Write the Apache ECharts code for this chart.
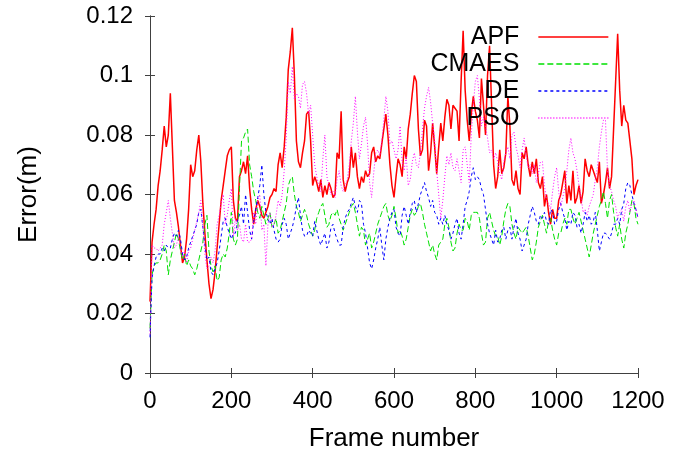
<!DOCTYPE html>
<html><head><meta charset="utf-8">
<script src="https://cdn.jsdelivr.net/npm/echarts@6/dist/echarts.min.js"></script>
<style>html,body{margin:0;padding:0;background:#fff}#c{width:690px;height:457px}</style>
</head><body><div id="c"></div>
<script>
// Frames are sampled every 5 frames (0..1200)
const FRAME_STEP = 5;
const xTicks = [0, 200, 400, 600, 800, 1000, 1200];
const yTicks = [0, 0.02, 0.04, 0.06, 0.08, 0.1, 0.12];
const seriesNames = ['APF', 'CMAES', 'DE', 'PSO'];

const apf = [
0.024,0.044,0.05,0.055,0.063,0.068,0.075,0.083,0.076,0.08,
0.094,0.076,0.058,0.054,0.049,0.043,0.037,0.039,0.045,0.055,
0.07,0.066,0.068,0.075,0.08,0.071,0.057,0.047,0.038,0.03,
0.025,0.028,0.034,0.042,0.05,0.058,0.063,0.068,0.073,0.075,
0.076,0.058,0.052,0.051,0.066,0.068,0.071,0.067,0.073,0.062,
0.055,0.05,0.055,0.058,0.056,0.053,0.052,0.054,0.056,0.059,
0.06,0.062,0.061,0.07,0.074,0.069,0.076,0.086,0.102,0.108,
0.116,0.1,0.078,0.071,0.069,0.074,0.078,0.087,0.088,0.078,
0.063,0.066,0.064,0.061,0.065,0.059,0.063,0.06,0.064,0.062,
0.059,0.06,0.074,0.072,0.088,0.065,0.061,0.064,0.066,0.076,
0.069,0.074,0.066,0.062,0.066,0.064,0.068,0.066,0.067,0.074,
0.076,0.071,0.073,0.072,0.077,0.082,0.087,0.08,0.07,0.063,
0.059,0.066,0.072,0.07,0.066,0.076,0.072,0.082,0.087,0.094,
0.1,0.098,0.082,0.073,0.075,0.085,0.083,0.068,0.074,0.084,
0.076,0.067,0.076,0.084,0.078,0.086,0.092,0.09,0.082,0.09,
0.089,0.088,0.078,0.098,0.115,0.095,0.085,0.078,0.087,0.093,
0.088,0.085,0.079,0.099,0.09,0.08,0.1,0.11,0.09,0.07,
0.062,0.066,0.075,0.067,0.069,0.074,0.093,0.083,0.065,0.063,
0.068,0.062,0.06,0.074,0.072,0.076,0.07,0.066,0.071,0.067,
0.072,0.064,0.062,0.066,0.056,0.06,0.054,0.05,0.055,0.052,
0.052,0.058,0.06,0.064,0.068,0.057,0.063,0.058,0.068,0.057,
0.059,0.063,0.057,0.061,0.072,0.068,0.066,0.07,0.068,0.066,
0.064,0.071,0.057,0.06,0.064,0.069,0.062,0.066,0.082,0.098,
0.114,0.095,0.083,0.09,0.085,0.084,0.078,0.072,0.06,0.063,
0.065];

const cmaes = [
0.015,0.033,0.036,0.037,0.037,0.038,0.04,0.043,0.041,0.033,
0.038,0.041,0.044,0.047,0.045,0.041,0.038,0.04,0.036,0.038,
0.036,0.035,0.033,0.035,0.038,0.041,0.044,0.05,0.053,0.041,
0.036,0.034,0.036,0.031,0.032,0.038,0.04,0.039,0.042,0.047,
0.054,0.045,0.043,0.045,0.062,0.078,0.079,0.081,0.082,0.07,
0.066,0.061,0.058,0.054,0.052,0.056,0.053,0.05,0.052,0.054,
0.049,0.05,0.052,0.047,0.048,0.051,0.054,0.057,0.063,0.065,
0.066,0.06,0.056,0.054,0.051,0.053,0.055,0.053,0.05,0.048,
0.046,0.048,0.052,0.054,0.056,0.057,0.053,0.049,0.05,0.053,
0.054,0.053,0.055,0.052,0.05,0.048,0.05,0.052,0.054,0.056,
0.057,0.054,0.05,0.046,0.049,0.048,0.043,0.045,0.047,0.042,
0.044,0.047,0.05,0.052,0.054,0.056,0.057,0.053,0.051,0.053,
0.056,0.052,0.047,0.048,0.046,0.043,0.045,0.049,0.053,0.055,
0.053,0.054,0.056,0.057,0.054,0.05,0.047,0.044,0.041,0.043,
0.04,0.038,0.043,0.044,0.045,0.05,0.052,0.049,0.044,0.041,
0.042,0.047,0.05,0.048,0.048,0.052,0.051,0.048,0.053,0.054,
0.054,0.054,0.052,0.047,0.043,0.044,0.052,0.054,0.051,0.048,
0.046,0.046,0.043,0.046,0.051,0.055,0.057,0.056,0.05,0.047,
0.045,0.049,0.048,0.047,0.048,0.049,0.046,0.042,0.038,0.04,
0.044,0.049,0.051,0.053,0.05,0.047,0.051,0.052,0.048,0.045,
0.043,0.047,0.047,0.05,0.052,0.05,0.055,0.055,0.052,0.05,
0.052,0.054,0.051,0.048,0.045,0.042,0.039,0.043,0.047,0.05,
0.053,0.056,0.058,0.061,0.057,0.052,0.058,0.06,0.054,0.049,
0.046,0.05,0.045,0.042,0.047,0.05,0.054,0.058,0.057,0.052,
0.05];

const de = [
0.012,0.032,0.036,0.039,0.04,0.04,0.042,0.041,0.043,0.042,
0.042,0.045,0.047,0.046,0.048,0.045,0.04,0.038,0.039,0.042,
0.044,0.046,0.048,0.05,0.054,0.055,0.049,0.043,0.038,0.039,
0.034,0.033,0.035,0.037,0.041,0.046,0.051,0.052,0.049,0.047,
0.045,0.047,0.047,0.051,0.053,0.056,0.05,0.06,0.054,0.048,
0.045,0.051,0.055,0.059,0.063,0.07,0.06,0.054,0.052,0.05,
0.052,0.048,0.045,0.044,0.045,0.05,0.052,0.05,0.045,0.047,
0.049,0.052,0.056,0.059,0.053,0.048,0.046,0.046,0.048,0.047,
0.046,0.051,0.048,0.045,0.043,0.045,0.047,0.042,0.044,0.049,
0.05,0.047,0.045,0.043,0.043,0.049,0.052,0.054,0.055,0.057,
0.059,0.056,0.054,0.058,0.057,0.05,0.047,0.042,0.037,0.035,
0.038,0.042,0.045,0.049,0.043,0.038,0.045,0.049,0.052,0.054,
0.055,0.049,0.047,0.046,0.053,0.056,0.053,0.05,0.054,0.057,
0.058,0.054,0.057,0.06,0.062,0.064,0.061,0.059,0.056,0.058,
0.054,0.053,0.05,0.052,0.05,0.053,0.05,0.048,0.045,0.047,
0.05,0.052,0.047,0.045,0.05,0.056,0.058,0.061,0.066,0.069,
0.065,0.066,0.065,0.062,0.06,0.055,0.05,0.047,0.045,0.043,
0.048,0.044,0.045,0.048,0.049,0.045,0.048,0.049,0.045,0.049,
0.052,0.047,0.045,0.041,0.043,0.045,0.05,0.053,0.056,0.054,
0.051,0.05,0.053,0.052,0.054,0.051,0.05,0.055,0.054,0.05,
0.051,0.055,0.057,0.054,0.052,0.048,0.051,0.05,0.054,0.053,
0.049,0.05,0.047,0.05,0.054,0.051,0.053,0.05,0.051,0.054,
0.048,0.041,0.044,0.047,0.047,0.046,0.045,0.047,0.05,0.05,
0.052,0.05,0.055,0.057,0.062,0.064,0.063,0.06,0.057,0.055,
0.052];

const pso = [
0.013,0.043,0.042,0.042,0.041,0.042,0.043,0.05,0.054,0.058,
0.052,0.047,0.042,0.043,0.046,0.042,0.039,0.041,0.037,0.041,
0.042,0.045,0.048,0.051,0.054,0.058,0.049,0.04,0.035,0.036,
0.039,0.037,0.041,0.05,0.053,0.057,0.06,0.05,0.053,0.058,
0.062,0.046,0.052,0.048,0.05,0.045,0.044,0.05,0.044,0.044,
0.045,0.054,0.05,0.058,0.06,0.048,0.05,0.036,0.05,0.054,
0.049,0.05,0.053,0.058,0.056,0.06,0.068,0.079,0.098,0.094,
0.103,0.092,0.094,0.093,0.089,0.097,0.098,0.094,0.087,0.09,
0.08,0.07,0.066,0.063,0.061,0.072,0.08,0.066,0.063,0.06,
0.061,0.059,0.065,0.068,0.063,0.061,0.063,0.065,0.07,0.078,
0.084,0.093,0.081,0.072,0.077,0.083,0.086,0.077,0.064,0.059,
0.067,0.074,0.075,0.073,0.078,0.085,0.093,0.088,0.077,0.078,
0.075,0.072,0.075,0.083,0.071,0.068,0.073,0.063,0.065,0.071,
0.074,0.07,0.069,0.074,0.082,0.089,0.093,0.096,0.091,0.084,
0.078,0.068,0.06,0.052,0.058,0.066,0.073,0.07,0.074,0.069,
0.068,0.072,0.068,0.064,0.075,0.076,0.07,0.064,0.08,0.09,
0.098,0.1,0.092,0.083,0.086,0.083,0.079,0.074,0.075,0.072,
0.074,0.071,0.067,0.065,0.071,0.074,0.076,0.072,0.08,0.081,
0.076,0.073,0.069,0.075,0.079,0.073,0.069,0.07,0.067,0.07,
0.064,0.067,0.071,0.071,0.063,0.058,0.057,0.055,0.061,0.066,
0.069,0.061,0.056,0.059,0.062,0.068,0.075,0.079,0.074,0.072,
0.068,0.063,0.059,0.054,0.055,0.053,0.056,0.058,0.06,0.065,
0.069,0.076,0.081,0.085,0.085,0.068,0.063,0.061,0.058,0.056,
0.052,0.054,0.055,0.051,0.056,0.058,0.054,0.057,0.058,0.055,
0.052];

const colors = ['#ff0000', '#00e000', '#0000ff', '#ff00ff'];
const dashes = ['solid', [6, 3], [3, 3], [1, 2]];
const widths = [1.5, 1, 1, 1];
const values = [apf, cmaes, de, pso];

const FONT = 'Liberation Sans, Arial, Helvetica, sans-serif';
const frames = apf.map((_, i) => i * FRAME_STEP);

const chart = echarts.init(document.getElementById('c'), null, {renderer: 'canvas'});

const axisLine = {show: true, lineStyle: {color: '#404040', width: 1}};
const axisTick = {show: true, inside: true, length: 5, lineStyle: {color: '#404040'}};

const legendTops = [19.5, 46.5, 73.5, 100.5];
const legends = seriesNames.map((n, i) => ({
  data: [n],
  right: 76,
  top: legendTops[i],
  align: 'right',
  orient: 'vertical',
  itemWidth: 70,
  itemHeight: 10,
  selectedMode: false,
  itemStyle: {opacity: 0},
  lineStyle: {width: 1.3, color: colors[i], type: dashes[i], opacity: 1},
  textStyle: {fontFamily: FONT, fontSize: 25, color: '#000', padding: [0, 14, 0, 0]}
}));

chart.setOption({
  animation: false,
  backgroundColor: '#fff',
  grid: {left: 150, right: 52, top: 16, bottom: 80, containLabel: false},
  legend: legends,
  xAxis: [{
    type: 'value', min: xTicks[0], max: xTicks[xTicks.length - 1], interval: xTicks[1] - xTicks[0],
    name: 'Frame number', nameLocation: 'middle', nameGap: 53,
    nameTextStyle: {fontFamily: FONT, fontSize: 26, color: '#000'},
    axisLine: axisLine, axisTick: axisTick, splitLine: {show: false},
    axisLabel: {fontFamily: FONT, fontSize: 24, color: '#000', margin: 16, formatter: v => String(v)}
  }, {
    type: 'value', position: 'top', min: xTicks[0], max: xTicks[xTicks.length - 1], interval: xTicks[1] - xTicks[0],
    axisLine: axisLine, axisTick: axisTick, splitLine: {show: false}, axisLabel: {show: false}
  }],
  yAxis: [{
    type: 'value', min: yTicks[0], max: yTicks[yTicks.length - 1], interval: yTicks[1] - yTicks[0],
    name: 'Error(m)', nameLocation: 'middle', nameGap: 108, nameRotate: 90,
    nameTextStyle: {fontFamily: FONT, fontSize: 26, color: '#000'},
    axisLine: axisLine, axisTick: axisTick, splitLine: {show: false},
    axisLabel: {fontFamily: FONT, fontSize: 24, color: '#000', margin: 17, formatter: v => String(+v.toFixed(2))}
  }, {
    type: 'value', position: 'right', min: yTicks[0], max: yTicks[yTicks.length - 1], interval: yTicks[1] - yTicks[0],
    axisLine: axisLine, axisTick: axisTick, splitLine: {show: false}, axisLabel: {show: false}
  }],
  series: seriesNames.map((n, i) => ({
    name: n,
    type: 'line',
    xAxisIndex: 0,
    yAxisIndex: 0,
    symbol: 'none',
    showSymbol: false,
    smooth: false,
    color: colors[i],
    lineStyle: {color: colors[i], width: widths[i], type: dashes[i]},
    data: frames.map((f, k) => [f, values[i][k]])
  }))
});
</script></body></html>
